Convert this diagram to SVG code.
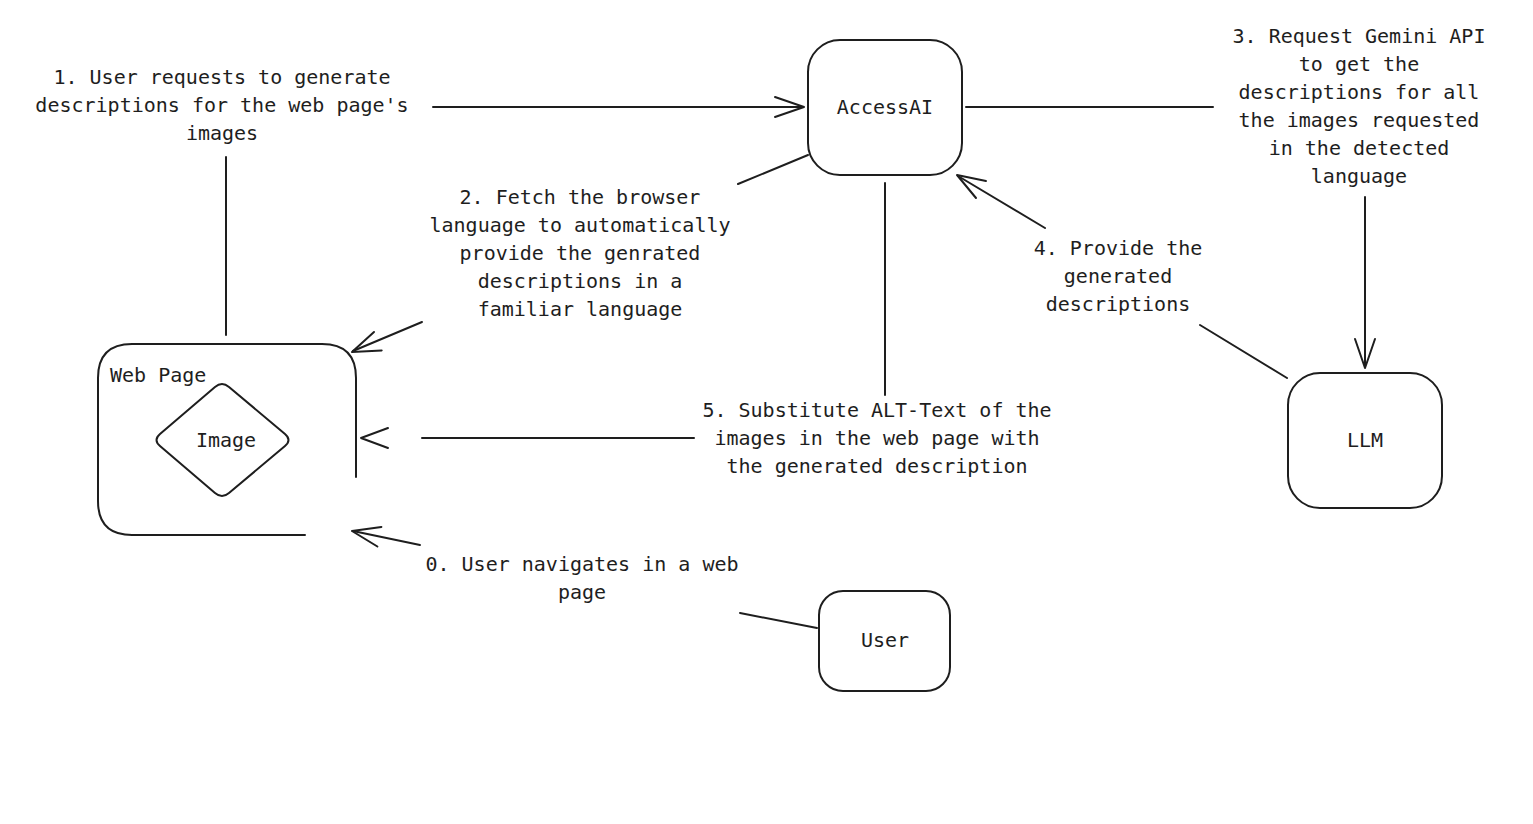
<svg xmlns="http://www.w3.org/2000/svg" width="1533" height="824" viewBox="0 0 1533 824">
<style>
  .shape { fill: none; stroke: #1e1e1e; stroke-width: 2; stroke-linejoin: round; stroke-linecap: round; }
  .conn { fill: none; stroke: #1e1e1e; stroke-width: 2; stroke-linecap: round; stroke-linejoin: round; }
  .t { font-family: "DejaVu Sans Mono", "Liberation Mono", monospace; font-size: 20px; fill: #1e1e1e; text-anchor: middle; }
  .tl { text-anchor: start; }
</style>
<rect width="1533" height="824" fill="#ffffff"/>

<g id="node-webpage">
  <path class="shape" d="M305 535 L132 535 Q98 535 98 501 L98 378 Q98 344 132 344 L322 344 Q356 344 356 378 L356 477"/>
  <text class="t tl" x="110" y="382">Web Page</text>
</g>

<g id="node-image">
  <path class="shape" d="M215 387 Q222 381 229 387 L285 434 Q292 440 285 446 L229 493 Q222 499 215 493 L160 446 Q153 440 160 434 Z"/>
  <text class="t" x="226" y="447">Image</text>
</g>

<g id="node-accessai">
  <rect class="shape" x="808" y="40" width="154" height="135" rx="32" ry="32"/>
  <text class="t" x="885" y="114">AccessAI</text>
</g>

<g id="node-llm">
  <rect class="shape" x="1288" y="373" width="154" height="135" rx="32" ry="32"/>
  <text class="t" x="1365" y="447">LLM</text>
</g>

<g id="node-user">
  <rect class="shape" x="819" y="591" width="131" height="100" rx="24" ry="24"/>
  <text class="t" x="885" y="647">User</text>
</g>

<g id="connectors">
  <!-- 1 -->
  <path class="conn" d="M226 335 L226 157"/>
  <path class="conn" d="M433 107 L803 107"/>
  <path class="conn" d="M775 97 L804 107 L775 117"/>
  <!-- 2 -->
  <path class="conn" d="M808 155 L738 184"/>
  <path class="conn" d="M422 322 L353 351"/>
  <path class="conn" d="M374 332 L352 352 L381.7 350.4"/>
  <!-- 3 -->
  <path class="conn" d="M966 107 L1213 107"/>
  <path class="conn" d="M1365 197 L1365 367"/>
  <path class="conn" d="M1355 339 L1365 368 L1375 339"/>
  <!-- 4 -->
  <path class="conn" d="M1287 378 L1200 325"/>
  <path class="conn" d="M1045 228 L958 176"/>
  <path class="conn" d="M976 198 L957 175 L986 181"/>
  <!-- 5 -->
  <path class="conn" d="M885 183 L885 395"/>
  <path class="conn" d="M694 438 L422 438"/>
  <path class="conn" d="M388 428 L361 438 L388 448"/>
  <!-- 0 -->
  <path class="conn" d="M817 628 L740 613"/>
  <path class="conn" d="M420 545 L353 531"/>
  <path class="conn" d="M381.4 526.9 L352 531 L377.4 546.5"/>
</g>

<g id="labels">
  <text class="t" x="222" y="84">1. User requests to generate</text>
  <text class="t" x="222" y="112">descriptions for the web page's</text>
  <text class="t" x="222" y="140">images</text>

  <text class="t" x="580" y="204">2. Fetch the browser</text>
  <text class="t" x="580" y="232">language to automatically</text>
  <text class="t" x="580" y="260">provide the genrated</text>
  <text class="t" x="580" y="288">descriptions in a</text>
  <text class="t" x="580" y="316"> familiar language</text>

  <text class="t" x="1359" y="43">3. Request Gemini API</text>
  <text class="t" x="1359" y="71">to get the</text>
  <text class="t" x="1359" y="99">descriptions for all</text>
  <text class="t" x="1359" y="127">the images requested</text>
  <text class="t" x="1359" y="155">in the detected</text>
  <text class="t" x="1359" y="183">language</text>

  <text class="t" x="1118" y="255">4. Provide the</text>
  <text class="t" x="1118" y="283">generated</text>
  <text class="t" x="1118" y="311">descriptions</text>

  <text class="t" x="877" y="417">5. Substitute ALT-Text of the</text>
  <text class="t" x="877" y="445">images in the web page with</text>
  <text class="t" x="877" y="473">the generated description</text>

  <text class="t" x="582" y="571">0. User navigates in a web</text>
  <text class="t" x="582" y="599">page</text>
</g>
</svg>
